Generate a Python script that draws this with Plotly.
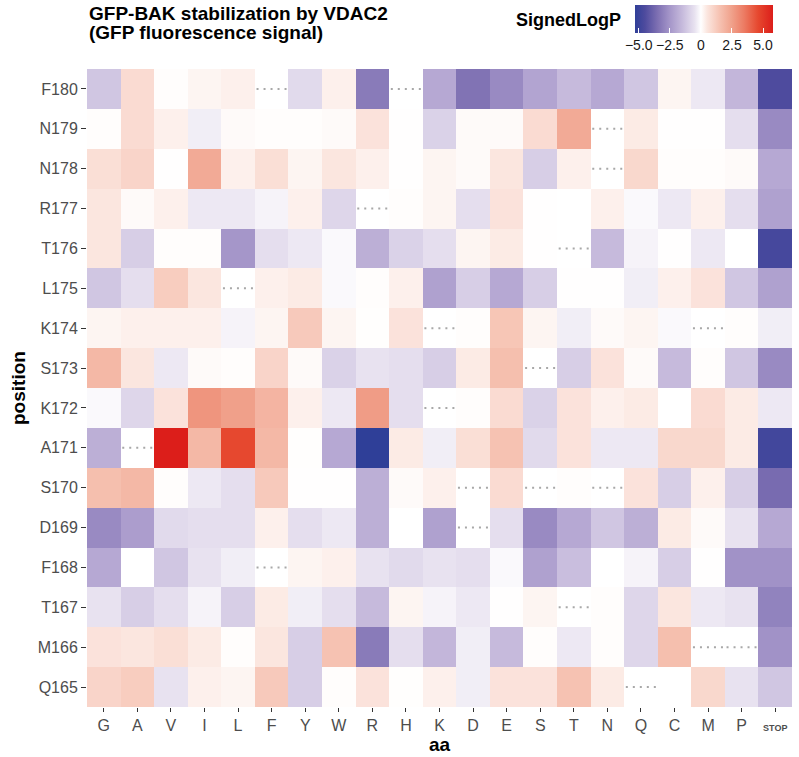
import plotly.graph_objects as go

aa_labels = ["G", "A", "V", "I", "L", "F", "Y", "W", "R", "H", "K", "D", "E",
             "S", "T", "N", "Q", "C", "M", "P", "STOP"]
positions = ["F180", "N179", "N178", "R177", "T176", "L175", "K174", "S173",
             "K172", "A171", "S170", "D169", "F168", "T167", "M166", "Q165"]

# SignedLogP per position (columns follow aa_labels); None = no value (dotted cell)
F180 = [-1.2, 0.8, 0.05, 0.2, 0.3, None, -0.7, 0.3, -3.2, None, -2.0, -3.4, -2.8, -2.1, -1.5, -2.0, -1.2, 0.2, -0.4, -1.6, -4.5]
N179 = [0.05, 0.8, 0.3, -0.3, 0.1, 0.05, 0.05, 0.1, 0.6, 0.02, -0.9, 0.1, 0.1, 0.8, 2.2, None, 0.4, 0.02, 0.02, -0.6, -2.8]
N178 = [0.7, 1.0, 0.02, 2.2, 0.3, 0.7, 0.2, 0.5, 0.3, 0.02, 0.2, 0.1, 0.5, -1.0, 0.3, None, 0.9, 0.05, 0.05, 0.1, -2.0]
R177 = [0.5, 0.1, 0.3, -0.4, -0.4, -0.2, 0.3, -0.8, None, 0.05, 0.2, -0.6, 0.6, 0.02, 0.0, 0.3, -0.1, -0.4, 0.3, -0.6, -2.2]
T176 = [0.5, -1.0, 0.05, 0.05, -2.5, -0.6, -0.4, -0.1, -1.8, -0.9, -0.6, 0.2, 0.4, 0.02, None, -1.5, -0.2, 0.02, -0.4, 0.0, -4.7]
L175 = [-1.2, -0.6, 1.2, 0.5, None, 0.3, 0.4, -0.1, 0.05, 0.3, -2.2, -1.0, -2.0, -1.0, 0.02, 0.02, -0.3, 0.3, 0.6, -1.2, -2.2]
K174 = [0.2, 0.3, 0.3, 0.3, -0.2, 0.2, 1.3, 0.2, 0.03, 0.6, None, 0.05, 1.4, 0.2, -0.3, 0.1, 0.2, -0.1, None, 0.05, -0.3]
S173 = [1.8, 0.5, -0.4, 0.1, 0.05, 1.0, 0.1, -0.9, -0.5, -0.6, -1.0, 0.4, 1.6, None, -1.0, 0.6, 0.1, -1.5, 0.05, -1.2, -2.8]
K172 = [-0.1, -0.8, 0.6, 2.8, 2.5, 1.9, 0.3, -0.4, 2.6, -0.6, None, 0.05, 0.8, -0.9, 0.6, 0.3, 0.4, 0.0, 0.8, 0.4, -0.4]
A171 = [-1.8, None, 5.8, 1.8, 4.6, 1.8, 0.03, -2.0, -5.3, 0.4, -0.3, 0.7, 1.5, -0.7, 0.6, -0.4, -0.4, 0.9, 0.9, 0.4, -4.8]
S170 = [1.6, 1.8, 0.05, -0.4, -0.6, 1.3, 0.02, 0.02, -1.8, 0.1, 0.3, None, 0.8, None, 0.05, None, 0.6, -1.0, 0.3, -1.0, -3.6]
D169 = [-2.8, -2.3, -0.7, -0.6, -0.6, 0.3, -0.6, -0.4, -1.8, 0.0, -2.2, None, -0.6, -2.8, -2.0, -1.2, -1.8, 0.4, 0.1, -0.5, -2.0]
F168 = [-2.0, 0.0, -1.2, -0.5, -0.3, None, 0.2, 0.3, -0.5, -0.7, -0.5, -0.6, -0.1, -2.2, -1.4, 0.0, -0.2, -1.0, 0.02, -2.6, -2.6]
T167 = [-0.5, -1.0, -0.6, -0.2, -1.0, 0.4, -0.3, -0.6, -1.5, 0.2, -0.2, -0.4, 0.02, 0.2, None, 0.05, -0.8, 0.5, -0.4, -0.5, -3.0]
M166 = [0.6, 0.5, 0.7, 0.4, 0.05, 0.5, -1.0, 1.5, -3.2, -0.6, -1.6, -0.3, -1.5, 0.05, -0.4, 0.05, -0.8, 1.6, None, None, -2.6]
Q165 = [1.0, 1.2, -0.5, 0.3, 0.2, 1.3, -1.0, 0.05, 0.6, 0.03, 0.3, -0.3, 0.6, 0.6, 1.5, 0.4, None, 0.0, 0.9, -0.5, -1.2]

colorbar_ticks = [-5.0, -2.5, 0, 2.5, 5.0]
colorbar_ticktext = ["\u22125.0", "\u22122.5", "0", "2.5", "5.0"]

rows = [F180, N179, N178, R177, T176, L175, K174, S173,
        K172, A171, S170, D169, F168, T167, M166, Q165]

zmin, zmax = -5.3, 5.8
stops = [(-5.3, "#2f3f98"), (-4.5, "#4e4b9e"), (-3.5, "#7d6fb2"), (-2.5, "#a596c9"),
         (-1.5, "#c6badc"), (-0.5, "#e8e2f0"), (0.0, "#ffffff"), (0.5, "#fbe6df"),
         (1.5, "#f6c2b2"), (2.5, "#f0a08a"), (3.5, "#ec7a62"), (4.6, "#e6482f"),
         (5.8, "#dc1e1a")]
colorscale = [[(v - zmin) / (zmax - zmin), c] for v, c in stops]

xs = list(range(len(aa_labels)))
ys = list(range(len(positions)))

# plot geometry (pixels)
W, H = 799, 757
ml, mr, mt, mb = 87, 7, 69, 50
pw, ph = W - ml - mr, H - mt - mb

def px_x(p):
    return (p - ml) / pw

def px_y(p):
    return (H - mb - p) / ph

FONT = "Liberation Sans, Arial, sans-serif"

fig = go.Figure()
fig.add_trace(go.Heatmap(
    z=rows, x=xs, y=ys, colorscale=colorscale, zmin=zmin, zmax=zmax,
    hoverongaps=False, hoverinfo="skip",
    colorbar=dict(
        orientation="h", x=px_x(704), xanchor="center",
        y=px_y(5), yanchor="top", yref="paper",
        len=138, lenmode="pixels", thickness=28, thicknessmode="pixels",
        outlinewidth=0, tickvals=colorbar_ticks, ticktext=colorbar_ticktext,
        ticks="inside", tickcolor="white", ticklen=5, tickwidth=1, tickangle=0,
        tickfont=dict(size=14, color="#1a1a1a", family=FONT),
        xpad=0, ypad=0,
    ),
))

# dotted marks on missing cells
dx, dy = [], []
for i, r in enumerate(rows):
    for j, v in enumerate(r):
        if v is None:
            dx += [j - 0.45, j + 0.45, None]
            dy += [i, i, None]
fig.add_trace(go.Scatter(x=dx, y=dy, mode="lines", hoverinfo="skip", showlegend=False,
                         line=dict(color="#a8a8a8", width=2, dash="2px,5px")))

# small marks just right of the panel
fig.add_trace(go.Scatter(x=[len(aa_labels) - 0.45] * len(positions), y=ys, mode="markers",
                         hoverinfo="skip", showlegend=False, cliponaxis=False,
                         marker=dict(size=2.5, color="#b5b5b5")))

tick_text = [("<span style='font-size:9px'><b>STOP</b></span>" if a == "STOP" else a)
             for a in aa_labels]

fig.update_layout(
    width=W, height=H,
    margin=dict(l=ml, r=mr, t=mt, b=mb, autoexpand=False),
    paper_bgcolor="white", plot_bgcolor="white",
    font=dict(family=FONT, color="#4d4d4d"),
    showlegend=False,
    xaxis=dict(range=[-0.5, len(aa_labels) - 0.5], tickvals=xs, ticktext=tick_text,
               ticks="outside", ticklen=4, tickcolor="#333333", showgrid=False,
               zeroline=False, showline=False, automargin=False,
               tickfont=dict(size=16, color="#4d4d4d")),
    yaxis=dict(range=[len(positions) - 0.5, -0.5], tickvals=ys, ticktext=positions,
               ticks="outside", ticklen=5, tickcolor="#333333", showgrid=False,
               zeroline=False, showline=False, automargin=False,
               tickfont=dict(size=16, color="#4d4d4d")),
    annotations=[
        dict(text="<b>GFP-BAK stabilization by VDAC2</b>",
             xref="paper", yref="paper", x=px_x(87), y=px_y(14), xanchor="left",
             yanchor="middle", showarrow=False, font=dict(size=19, color="black")),
        dict(text="<b>(GFP fluorescence signal)</b>",
             xref="paper", yref="paper", x=px_x(87), y=px_y(33), xanchor="left",
             yanchor="middle", showarrow=False, font=dict(size=19, color="black")),
        dict(text="<b>SignedLogP</b>", xref="paper", yref="paper",
             x=px_x(623), y=px_y(20), xanchor="right", yanchor="middle",
             showarrow=False, font=dict(size=18, color="black")),
        dict(text="<b>aa</b>", xref="paper", yref="paper", x=px_x(440), y=px_y(757),
             xanchor="center", yanchor="bottom", showarrow=False,
             font=dict(size=19, color="black")),
        dict(text="<b>position</b>", xref="paper", yref="paper", x=px_x(18), y=0.5,
             xanchor="center", yanchor="middle", textangle=-90, showarrow=False,
             font=dict(size=19, color="black")),
    ],
)

fig.write_html("out.html", config={"displayModeBar": False},
               post_script="document.body.style.margin='0px';")
